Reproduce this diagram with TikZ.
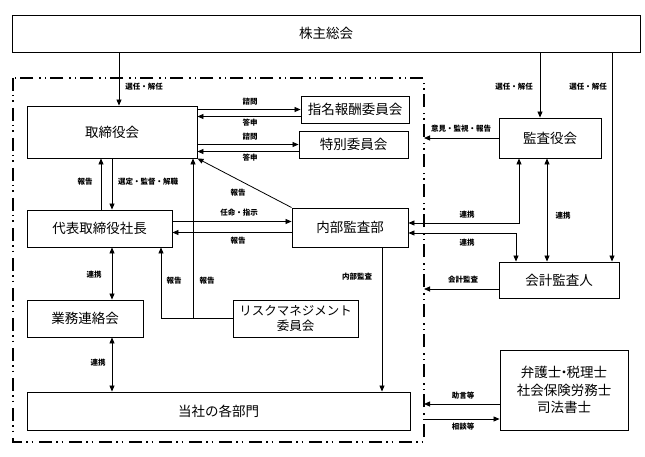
\documentclass[tikz,border=0pt]{standalone}
\usepackage{fontspec}
\setmainfont{Noto Sans CJK JP}
\usetikzlibrary{arrows.meta}
\begin{document}
\begin{tikzpicture}[x=1pt,y=-1pt,
  box/.style={draw, line width=0.9pt, inner sep=0pt, font=\fontsize{13.5}{17.5}\selectfont, align=center},
  arr/.style={draw, line width=0.8pt, -{Triangle[length=6pt,width=5pt]}},
  arrb/.style={draw, line width=0.8pt, {Triangle[length=6pt,width=5pt]}-{Triangle[length=6pt,width=5pt]}},
  lab/.style={font=\fontsize{7.5}{9}\selectfont\bfseries, inner sep=0pt},
  dashbox/.style={draw, line width=1.6pt, dash pattern=on 13pt off 4pt on 1.5pt off 4pt on 1.5pt off 6pt}
]
\useasboundingbox (0,0) rectangle (645,457);
% dashed company frame
\draw[dashbox] (13,78) rectangle (424,442);
\coordinate (dbR) at (424,0);
% helper x positions
\coordinate (v101) at (101,0);
\coordinate (v112) at (112,0);
\coordinate (v119) at (119,0);
\coordinate (v161) at (161,0);
\coordinate (v193) at (193,0);
\coordinate (v382) at (382,0);
\coordinate (v516) at (516,0);
\coordinate (v519) at (519,0);
\coordinate (v540) at (540,0);
\coordinate (v547) at (547,0);
\coordinate (v612) at (612,0);
% boxes
\node[box, minimum width=628, minimum height=37] (kabu) at (326,33.5) {株主総会};
\node[box, minimum width=170, minimum height=52] (tori) at (112,132) {取締役会};
\node[box, minimum width=108, minimum height=27] (shimei) at (355,109.5) {指名報酬委員会};
\node[box, minimum width=109, minimum height=27] (tokube) at (353.5,144.5) {特別委員会};
\node[box, minimum width=102, minimum height=40] (kansa) at (550,138) {監査役会};
\node[box, minimum width=145, minimum height=37] (daihyo) at (99.5,228.5) {代表取締役社長};
\node[box, minimum width=116, minimum height=39] (naibu) at (350,227.5) {内部監査部};
\node[box, minimum width=120, minimum height=36] (kaikei) at (559,280) {会計監査人};
\node[box, minimum width=116, minimum height=37] (gyomu) at (85,318.5) {業務連絡会};
\node[box, minimum width=125, minimum height=37, font=\fontsize{12.5}{15}\selectfont] (risk) at (295.5,318.5) {リスクマネジメント\\委員会};
\node[box, minimum width=383, minimum height=38] (tosha) at (218.5,411) {当社の各部門};
\node[box, minimum width=128, minimum height=80] (bengo) at (564,390) {弁護士\kern-0.3em・\kern-0.3em税理士\\社会保険労務士\\司法書士};
% shareholders
\draw[arr] (kabu.south -| v119) -- (tori.north -| v119);
\node[lab] (l1) at (144,87) {選任・解任};
\draw[arr] (kabu.south -| v540) -- (kansa.north -| v540);
\node[lab] (l2) at (514,87) {選任・解任};
\draw[arr] (kabu.south -| v612) -- (kaikei.north -| v612);
\node[lab] (l3) at (588,87) {選任・解任};
% board and committees
\draw[arr] (shimei.west -| tori.east) -- (shimei.west);
\draw[arr] ([yshift=-7pt]shimei.west) -- ([yshift=-7pt]shimei.west -| tori.east);
\node[lab] (l4) at (250,102) {諮問};
\node[lab] (l5) at (250,123) {答申};
\draw[arr] (tokube.west -| tori.east) -- (tokube.west);
\draw[arr] ([yshift=-7pt]tokube.west) -- ([yshift=-7pt]tokube.west -| tori.east);
\node[lab] (l6) at (250,137) {諮問};
\node[lab] (l7) at (250,158) {答申};
% board and president
\draw[arr] (daihyo.north -| v101) -- (tori.south -| v101);
\draw[arr] (tori.south -| v112) -- (daihyo.north -| v112);
\node[lab] (l8) at (85,182) {報告};
\node[lab] (l9) at (148,182) {選定・監督・解職};
% internal audit
\draw[arr] (naibu.north west) -- (tori.south east);
\node[lab] (l10) at (238,193) {報告};
\draw[arr] ([yshift=7pt]daihyo.east) -- ([yshift=7pt]daihyo.east -| naibu.west);
\node[lab] (l11) at (239,213) {任命・指示};
\draw[arr] ([yshift=-5pt]naibu.west) -- ([yshift=-5pt]naibu.west -| daihyo.east);
\node[lab] (l12) at (238,241) {報告};
\draw[arr] (naibu.south -| v382) -- (tosha.north -| v382);
\node[lab] (l13) at (357,277) {内部監査};
% president, liaison, departments
\draw[arrb] (daihyo.south -| v112) -- (gyomu.north -| v112);
\node[lab] (l14) at (94,275) {連携};
\draw[arrb] (gyomu.south -| v112) -- (tosha.north -| v112);
\node[lab] (l15) at (98,363) {連携};
% risk management
\draw[arr] (risk.west) -| (daihyo.south -| v161);
\draw[arr] (risk.west -| v193) -- (tori.south -| v193);
\node[lab] (l16) at (174,281) {報告};
\node[lab] (l17) at (207,281) {報告};
% auditors
\draw[arr] (kansa.west) -- (kansa.west -| dbR);
\node[lab] (l18) at (461,129) {意見・監視・報告};
\draw[arrb] (kansa.south -| v519) |- ([yshift=4.5pt]naibu.east);
\node[lab] (l19) at (467,215) {連携};
\draw[arrb] ([yshift=-5.5pt]naibu.east) -| (kaikei.north -| v516);
\node[lab] (l20) at (467,243) {連携};
\draw[arrb] (kansa.south -| v547) -- (kaikei.north -| v547);
\node[lab] (l21) at (563,216) {連携};
\draw[arr] ([yshift=-9pt]kaikei.west) -- ([yshift=-9pt]kaikei.west -| dbR);
\node[lab] (l22) at (463,280) {会計監査};
% advisers
\draw[arr] ([yshift=-14pt]bengo.west) -- ([yshift=-14pt]bengo.west -| dbR);
\node[lab] (l23) at (463,396) {助言等};
\draw[arr] ([yshift=-29pt]bengo.west -| dbR) -- ([yshift=-29pt]bengo.west);
\node[lab] (l24) at (463,427) {相談等};
\end{tikzpicture}
\end{document}
